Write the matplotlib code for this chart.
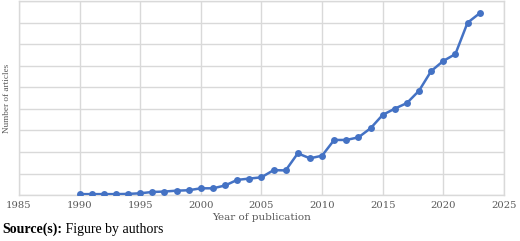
import matplotlib
matplotlib.use('Agg')
import matplotlib.pyplot as plt

# publications per year (grid units = 10 articles)
years = list(range(1990, 2024))
articles = [0.5, 0.5, 0.5, 0.5, 0.6, 0.9, 1.5, 1.7, 2.1, 2.3,
            3.2, 3.2, 4.5, 7.1, 7.7, 8.3, 11.6, 11.5, 19.4, 17.1,
            18.3, 25.6, 25.6, 26.8, 31.0, 37.2, 40.1, 42.7, 48.4, 57.5,
            62.2, 65.4, 79.9, 84.3]

xticks = list(range(1985, 2030, 5))

fig = plt.figure(figsize=(5.2, 2.41), dpi=100)
ax = fig.add_axes([0.0365, 0.19, 0.9325, 0.806])

ax.plot(years, articles, color='#4472C4', lw=1.8, marker='o', ms=5,
        markeredgewidth=0, zorder=3)

ax.set_xlim(1985, 2025)
ax.set_ylim(0, 90)
ax.set_xticks(xticks)
ax.set_yticks(range(0, 91, 10))
ax.set_yticklabels([])
ax.tick_params(axis='both', length=0, pad=4)
ax.tick_params(axis='x', labelsize=7.2, labelcolor='#595959')
for lab in ax.get_xticklabels():
    lab.set_family('DejaVu Serif')
ax.grid(True, color='#D9D9D9', lw=1)
for s in ax.spines.values():
    s.set_color('#D9D9D9')
    s.set_linewidth(1)

ax.set_xlabel('Year of publication', family='DejaVu Serif', fontsize=7.5,
              color='#595959', labelpad=2)
ax.set_ylabel('Number of articles', family='Liberation Serif', fontsize=6.6,
              color='#595959', labelpad=2)

t1 = fig.text(0.004, 0.035, 'Source(s):', family='Liberation Serif',
              fontweight='bold', fontsize=10)
ax.annotate(' Figure by authors', xy=(1, 0), xycoords=t1, va='bottom',
            family='Liberation Serif', fontsize=10)

fig.savefig('out.png', dpi=100)
